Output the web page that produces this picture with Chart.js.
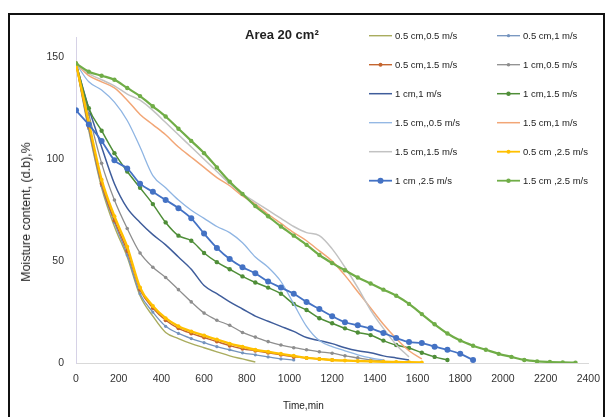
<!DOCTYPE html>
<html>
<head>
<meta charset="utf-8">
<script src="https://cdn.jsdelivr.net/npm/chart.js@4.4.1/dist/chart.umd.min.js"></script>
<style>
  html, body { margin: 0; padding: 0; background: #fff; width: 610px; height: 417px; overflow: hidden; }
  #wrap { position: relative; width: 610px; height: 417px; font-family: "Liberation Sans", Arial, sans-serif; color: #222; }
  #frame { position: absolute; left: 8px; top: 13px; width: 597px; height: 420px; border: 2px solid #111; box-sizing: border-box; }
  #chart { position: absolute; left: 0; top: 0; }
  .lbl { position: absolute; white-space: nowrap; color: #222; }
  #title { left: 245px; top: 27px; font-size: 13px; font-weight: bold; }
  #xtitle { left: 283px; top: 400px; font-size: 10px; }
  #ytitle { left: 26px; top: 212px; font-size: 12.5px; transform: translate(-50%, -50%) rotate(-90deg); }
</style>
</head>
<body>
<div id="wrap">
  <div id="frame"></div>
  <canvas id="chart" width="610" height="417"></canvas>
  <div class="lbl" id="title">Area 20 cm²</div>
  <div class="lbl" id="xtitle">Time,min</div>
  <div class="lbl" id="ytitle">Moisture content, (d.b),%</div>
</div>
<script>
// Sampling times (min) shared by all runs
const timeMin = [0, 60, 120, 180, 240, 300, 360, 420, 480, 540, 600, 660, 720, 780, 840, 900, 960, 1020, 1080, 1140,
                 1200, 1260, 1320, 1380, 1440, 1500, 1560, 1620, 1680, 1740, 1800, 1860, 1920, 1980, 2040, 2100, 2160, 2220, 2280, 2340];

// Moisture content (d.b., %) for each slice thickness / air velocity
const mc_05cm_05 = [147, 114, 86, 67, 52, 33, 23, 15, 12, 9.5, 7.5, 5.5, 3.5, 2, 0.5];
const mc_05cm_1  = [147, 115, 87, 69, 53, 34, 25, 18, 14.5, 12, 10, 8, 6.5, 5, 4, 3, 2, 1.5];
const mc_05cm_15 = [147, 116, 88, 70, 55, 36, 27, 21, 17, 14.5, 12.5, 10.5, 8.5, 7, 6, 5, 4, 3, 2.5, 2, 1.5];
const mc_1cm_05  = [147, 122, 98, 80, 66, 54, 47, 42, 36, 30, 24.5, 21, 18.5, 15, 12.7, 10.5, 8.8, 7.5, 6.5, 5.5, 4.8, 3.5, 2.5, 1.5, 1];
const mc_1cm_1   = [147, 125, 106, 88, 76, 69, 63, 58, 52, 46, 38, 34, 30, 26.5, 23, 20.5, 18, 15.5, 12.5, 11, 9.5, 7.5, 6, 5, 3.5, 2.5, 1.5];
const mc_1cm_15  = [147, 125, 114, 103, 94, 86, 78, 69, 62.5, 60, 54, 49.5, 46, 42.5, 39.5, 37, 34, 29, 26, 22, 19.5, 17, 15, 13.7, 11, 8.8, 7.4, 5, 3, 1.5];
const mc_15cm_05 = [147, 138, 134, 128, 119, 106, 92, 86, 80, 75, 71, 67, 64, 59, 52, 47, 40, 29, 18, 11, 8, 6, 4, 2.5, 1.5];
const mc_15cm_1  = [147, 141, 138, 135, 129, 122, 117, 112, 106, 101, 96, 91, 87, 82, 78, 73, 68.5, 64, 60, 55, 50, 43, 35, 27, 19, 12, 6, 2];
const mc_15cm_15 = [147, 142, 139, 136, 132, 129, 124, 118, 112, 106, 100, 94, 88, 83, 79, 75, 71, 67, 64, 62.5, 56, 47, 37, 26, 17, 9, 3];
const mc_05cm_25 = [147, 118, 90, 72, 57, 37, 28, 22, 18, 15.5, 13.5, 11.5, 9.5, 8, 6.5, 5.5, 4.5, 3.5, 2.5, 2, 1.5, 1.2, 1, 0.8, 0.6, 0.5, 0.4, 0.3];
const mc_1cm_25  = [124, 117, 109, 99.5, 95.5, 88, 84, 80, 76, 71, 63.5, 56.5, 51, 47, 44, 40, 37, 34, 30, 26.5, 23, 20, 18.5, 17, 14.7, 12.3, 10.3, 9.8, 8, 6.5, 4.5, 1.5];
const mc_15cm_25 = [147, 143, 141, 139, 135, 131, 126, 121, 115, 109, 103, 96, 89, 83, 77, 72, 67, 62.5, 58, 53, 49, 45.5, 42, 39, 36, 33, 29, 24, 19, 14.5, 11, 8.5, 6.5, 4.5, 3, 1.5, 0.8, 0.5, 0.3, 0.2];

const seriesLabels = [
  '0.5 cm,0.5 m/s', '0.5 cm,1 m/s',
  '0.5 cm,1.5 m/s', '1 cm,0.5 m/s',
  '1 cm,1 m/s', '1 cm,1.5 m/s',
  '1.5 cm,,0.5 m/s', '1.5 cm,1 m/s',
  '1.5 cm,1.5 m/s', '0.5 cm ,2.5 m/s',
  '1 cm ,2.5 m/s', '1.5 cm ,2.5 m/s'
];
const seriesValues = [mc_05cm_05, mc_05cm_1, mc_05cm_15, mc_1cm_05, mc_1cm_1, mc_1cm_15,
                      mc_15cm_05, mc_15cm_1, mc_15cm_15, mc_05cm_25, mc_1cm_25, mc_15cm_25];
const xTicks = [0, 200, 400, 600, 800, 1000, 1200, 1400, 1600, 1800, 2000, 2200, 2400];
const yTicks = [0, 50, 100, 150];

// line colour, line width, marker radius
const styles = [
  ['#A9AC5E', 1.4, 0],
  ['#7393BE', 1.3, 1.6],
  ['#C4652F', 1.4, 2],
  ['#8E8E8E', 1.3, 1.8],
  ['#3F5D9B', 1.5, 0],
  ['#4F8E38', 1.5, 2.2],
  ['#8FB5E3', 1.3, 0],
  ['#F2A676', 1.5, 0],
  ['#C2C2C2', 1.5, 0],
  ['#FFC000', 2.4, 2],
  ['#4472C4', 1.8, 3],
  ['#70AD47', 2.2, 2.2]
];

const datasets = seriesValues.map((vals, i) => ({
  label: seriesLabels[i],
  data: vals.map((v, k) => ({ x: timeMin[k], y: v })),
  borderColor: styles[i][0],
  backgroundColor: styles[i][0],
  borderWidth: styles[i][1],
  pointRadius: styles[i][2],
  pointBorderWidth: 0,
  pointHoverRadius: styles[i][2],
  cubicInterpolationMode: 'monotone',
  showLine: true,
  fill: false,
  order: seriesValues.length - i
}));

// Two-column legend drawn inside the plot area
const gridLegend = {
  id: 'gridLegend',
  afterDraw(chart) {
    const ctx = chart.ctx;
    chart.data.datasets.forEach((ds, i) => {
      const col = i % 2, row = Math.floor(i / 2);
      const x = 369 + col * 128;
      const y = 35.7 + row * 29;
      ctx.save();
      ctx.strokeStyle = ds.borderColor;
      ctx.lineWidth = Math.min(ds.borderWidth, 1.8);
      ctx.beginPath();
      ctx.moveTo(x, y);
      ctx.lineTo(x + 23, y);
      ctx.stroke();
      if (ds.pointRadius > 0) {
        ctx.fillStyle = ds.backgroundColor;
        ctx.beginPath();
        ctx.arc(x + 11.5, y, ds.pointRadius, 0, Math.PI * 2);
        ctx.fill();
      }
      ctx.fillStyle = '#222';
      ctx.font = '9.5px "Liberation Sans", Arial, sans-serif';
      ctx.textBaseline = 'middle';
      ctx.textAlign = 'left';
      ctx.fillText(ds.label, x + 26, y + 0.5);
      ctx.restore();
    });
  }
};

const tickFont = { family: '"Liberation Sans", Arial, sans-serif', size: 10.5 };

new Chart(document.getElementById('chart'), {
  type: 'scatter',
  data: { datasets },
  plugins: [gridLegend],
  options: {
    responsive: false,
    animation: false,
    layout: { padding: { left: 0, right: 16, top: 37, bottom: 0 } },
    plugins: { legend: { display: false }, tooltip: { enabled: false }, title: { display: false } },
    scales: {
      x: {
        type: 'linear', min: 0, max: 2400,
        afterBuildTicks: s => { s.ticks = xTicks.map(v => ({ value: v })); },
        afterFit: s => { s.height = 54; },
        grid: { color: 'rgba(0,0,0,0)', drawTicks: false },
        border: { display: true, color: '#D9D9D9', width: 1 },
        ticks: { padding: 10, color: '#333', font: tickFont, maxRotation: 0, autoSkip: false, callback: v => String(v) }
      },
      y: {
        type: 'linear', min: 0, max: 160,
        afterBuildTicks: s => { s.ticks = yTicks.map(v => ({ value: v })); },
        afterFit: s => { s.width = 76; },
        grid: { color: 'rgba(0,0,0,0)', drawTicks: false },
        border: { display: true, color: '#D6D2E6', width: 1 },
        ticks: { padding: 12, color: '#333', font: tickFont, callback: v => String(v) }
      }
    }
  }
});
</script>
</body>
</html>
